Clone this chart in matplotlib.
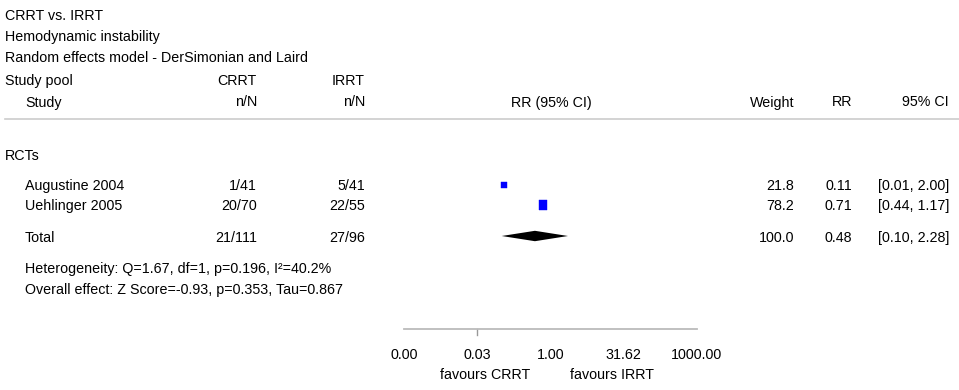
import matplotlib
matplotlib.use("Agg")
import matplotlib.pyplot as plt
import numpy as np

plt.rcParams['font.family'] = ['Liberation Sans', 'DejaVu Sans']

# ---------------- data ----------------
title_lines = ["CRRT vs. IRRT", "Hemodynamic instability",
               "Random effects model - DerSimonian and Laird"]
studies = ["Augustine 2004", "Uehlinger 2005"]
crrt_nN = ["1/41", "20/70"]
irrt_nN = ["5/41", "22/55"]
weights = [21.8, 78.2]
rr = [0.11, 0.71]
ci_low = [0.01, 0.44]
ci_high = [2.00, 1.17]
total_crrt = "21/111"
total_irrt = "27/96"
total_weight = 100.0
total_rr = 0.48
total_low = 0.10
total_high = 2.28
heterogeneity = "Heterogeneity: Q=1.67, df=1, p=0.196, I\u00b2=40.2%"
overall = "Overall effect: Z Score=-0.93, p=0.353, Tau=0.867"
axis_ticks = [0.001, 10 ** -1.5, 1.0, 10 ** 1.5, 1000.0]
axis_tick_labels = ["0.00", "0.03", "1.00", "31.62", "1000.00"]
marked_tick = 10 ** -1.5

W, H = 959, 390
fig = plt.figure(figsize=(W / 100, H / 100), dpi=100)

# text overlay in pixel coordinates
tx = fig.add_axes([0, 0, 1, 1])
tx.set_xlim(0, W)
tx.set_ylim(H, 0)
tx.axis('off')

fs = 10.3
col = '#000000'

def t(x, y, s, ha='left'):
    tx.text(x, y, s, ha=ha, va='baseline', fontsize=fs, color=col)

for i, s in enumerate(title_lines):
    t(5, [19.5, 41, 62.5][i], s)

t(5, 85, "Study pool")
t(257, 85, "CRRT", 'right')
t(365, 85, "IRRT", 'right')
t(25, 106.5, "Study")
t(257, 106.5, "n/N", 'right')
t(365, 106.5, "n/N", 'right')
t(551, 106.5, "RR (95% CI)", 'center')
t(794, 106.5, "Weight", 'right')
t(852, 106.5, "RR", 'right')
t(949, 106.5, "95% CI", 'right')
tx.plot([5, W], [119, 119], color='#cccccc', lw=1.2)

t(5, 160, "RCTs")
row_y = [190, 210]
for i in range(len(studies)):
    y = row_y[i]
    t(25, y, studies[i])
    t(257, y, crrt_nN[i], 'right')
    t(365, y, irrt_nN[i], 'right')
    t(794, y, f"{weights[i]:.1f}", 'right')
    t(852, y, f"{rr[i]:.2f}", 'right')
    t(949, y, f"[{ci_low[i]:.2f}, {ci_high[i]:.2f}]", 'right')

ty = 242
t(25, ty, "Total")
t(257, ty, total_crrt, 'right')
t(365, ty, total_irrt, 'right')
t(794, ty, f"{total_weight:.1f}", 'right')
t(852, ty, f"{total_rr:.2f}", 'right')
t(949, ty, f"[{total_low:.2f}, {total_high:.2f}]", 'right')

t(25, 273, heterogeneity)
t(25, 294, overall)

t(485, 379, "favours CRRT", 'center')
t(612, 379, "favours IRRT", 'center')

# forest axes: log scale, pixel y coordinates
x0, x1 = 404, 697
ax_bottom_px = 329
fx = fig.add_axes([x0 / W, (H - ax_bottom_px) / H, (x1 - x0) / W, ax_bottom_px / H])
fx.patch.set_alpha(0)
fx.set_xscale('log')
fx.set_xlim(0.001, 1000)
fx.set_ylim(ax_bottom_px, 0)
for s in ['top', 'left', 'right']:
    fx.spines[s].set_visible(False)
fx.spines['bottom'].set_color('#bbbbbb')
fx.spines['bottom'].set_linewidth(1.3)
fx.set_yticks([])
fx.set_xticks(axis_ticks, axis_tick_labels)
fx.xaxis.set_minor_locator(matplotlib.ticker.NullLocator())
fx.tick_params(axis='x', which='major', length=0, pad=14, labelsize=fs)
# single visible tick mark
fx.plot([marked_tick, marked_tick], [ax_bottom_px, ax_bottom_px + 6],
        color='#999999', lw=1.0, clip_on=False)

# study squares (size by weight)
rect = [(-0.8, -1), (0.8, -1), (0.8, 1), (-0.8, 1), (-0.8, -1)]
sq_y = [185, 205]
sizes = [3.8, 7.2]
shapes = ['s', rect]
for i in range(len(studies)):
    fx.plot([rr[i]], [sq_y[i]], marker=shapes[i], ms=sizes[i],
            color='#0000ff', mec='#0000ff', mew=0.3, linestyle='none')

# diamond
dy = 236
fx.fill([total_low, total_rr, total_high, total_rr],
        [dy, dy - 5.2, dy, dy + 5.2], color='black', lw=0)

fig.savefig("out.png", dpi=100)
